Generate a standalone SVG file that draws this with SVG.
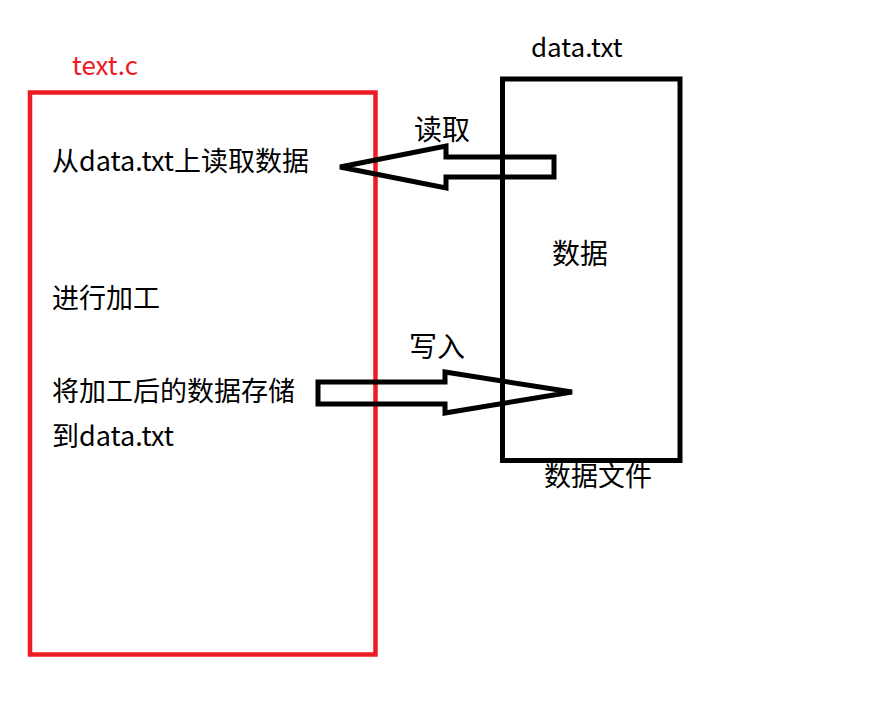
<svg xmlns="http://www.w3.org/2000/svg" width="880" height="716" viewBox="0 0 880 716">
<style>
text{font-family:"Noto Sans CJK SC","Microsoft YaHei",sans-serif;fill:#000}
.l{font-size:27px}
.b{font-size:28px}
.arrow{fill:none;stroke:#000;stroke-width:5;stroke-linejoin:miter}
</style>
<rect width="880" height="716" fill="#fff"/>
<g id="textc">
<rect x="30" y="92.5" width="345.5" height="562" fill="none" stroke="#ed1c24" stroke-width="4.5"/>
<text x="72" y="75" style="fill:#ed1c24;font-size:26px">text.c</text>
<text class="l" x="52" y="171">从data.txt上读取数据</text>
<text class="l" x="52" y="308">进行加工</text>
<text class="l" x="52" y="401">将加工后的数据存储</text>
<text class="l" x="52" y="446">到data.txt</text>
</g>
<g id="datatxt">
<rect x="502.5" y="79" width="177.5" height="381.5" fill="none" stroke="#000" stroke-width="5"/>
<text x="531" y="57" style="font-size:26px">data.txt</text>
<text class="b" x="552" y="264">数据</text>
<text x="544" y="486" style="font-size:27px">数据文件</text>
</g>
<g id="connectors">
<polygon class="arrow" points="340,167 446,146 446,157 554,157 554,177 446,177 446,188"/>
<text class="b" x="414" y="140">读取</text>
<polygon class="arrow" points="572,392 445,372 445,382 318,382 318,404 445,404 445,413"/>
<text class="b" x="409" y="357">写入</text>
</g>
</svg>
